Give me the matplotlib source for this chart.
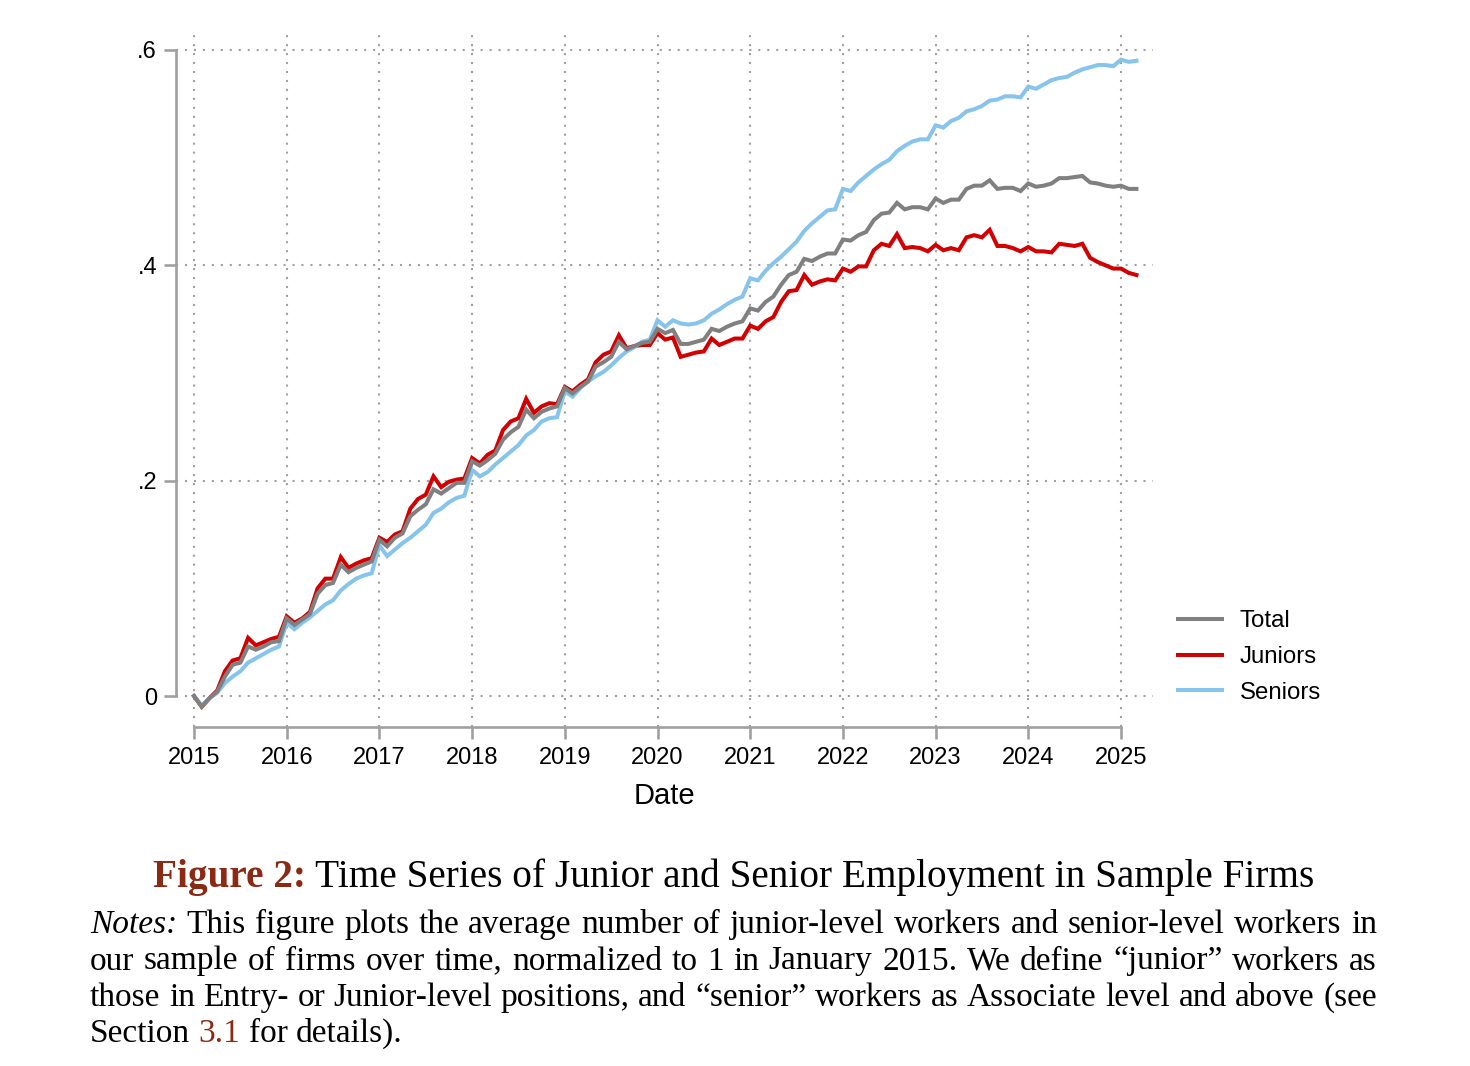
import numpy as np
import matplotlib
matplotlib.use("Agg")
import matplotlib.pyplot as plt
from matplotlib.transforms import IdentityTransform

# monthly series, Jan 2015 .. Mar 2025, normalized change vs Jan 2015
total = [0.000, -0.010, -0.002, 0.004, 0.018, 0.029, 0.031, 0.046, 0.043, 0.046, 0.050, 0.051,
         0.072, 0.066, 0.071, 0.076, 0.095, 0.103, 0.105, 0.122, 0.115, 0.119, 0.122, 0.125,
         0.145, 0.139, 0.147, 0.151, 0.167, 0.173, 0.178, 0.192, 0.188, 0.193, 0.198, 0.198,
         0.218, 0.214, 0.219, 0.225, 0.238, 0.245, 0.250, 0.266, 0.258, 0.264, 0.267, 0.269,
         0.286, 0.281, 0.287, 0.292, 0.306, 0.310, 0.315, 0.329, 0.322, 0.325, 0.328, 0.329,
         0.341, 0.337, 0.340, 0.327, 0.327, 0.329, 0.331, 0.341, 0.339, 0.343, 0.346, 0.348,
         0.360, 0.358, 0.366, 0.371, 0.382, 0.391, 0.394, 0.406, 0.404, 0.408, 0.411, 0.411,
         0.424, 0.423, 0.428, 0.431, 0.442, 0.448, 0.449, 0.458, 0.452, 0.454, 0.454, 0.452,
         0.462, 0.458, 0.461, 0.461, 0.471, 0.474, 0.474, 0.479, 0.471, 0.472, 0.472, 0.469,
         0.476, 0.473, 0.474, 0.476, 0.481, 0.481, 0.482, 0.483, 0.477, 0.476, 0.474, 0.473,
         0.474, 0.471, 0.471]
juniors = [0.000, -0.010, -0.002, 0.005, 0.023, 0.033, 0.035, 0.054, 0.047, 0.050, 0.053, 0.055,
           0.074, 0.068, 0.072, 0.078, 0.100, 0.109, 0.109, 0.129, 0.119, 0.123, 0.126, 0.128,
           0.147, 0.143, 0.150, 0.153, 0.174, 0.183, 0.187, 0.204, 0.194, 0.199, 0.201, 0.202,
           0.221, 0.216, 0.224, 0.228, 0.247, 0.255, 0.258, 0.276, 0.263, 0.269, 0.272, 0.271,
           0.287, 0.283, 0.289, 0.294, 0.310, 0.317, 0.320, 0.335, 0.323, 0.325, 0.326, 0.326,
           0.337, 0.331, 0.333, 0.315, 0.317, 0.319, 0.320, 0.332, 0.326, 0.329, 0.332, 0.332,
           0.344, 0.341, 0.348, 0.352, 0.366, 0.376, 0.377, 0.391, 0.382, 0.385, 0.387, 0.386,
           0.397, 0.394, 0.399, 0.399, 0.414, 0.420, 0.418, 0.429, 0.416, 0.417, 0.416, 0.413,
           0.419, 0.414, 0.416, 0.414, 0.426, 0.428, 0.426, 0.433, 0.418, 0.418, 0.416, 0.413,
           0.417, 0.413, 0.413, 0.412, 0.420, 0.419, 0.418, 0.420, 0.407, 0.403, 0.400, 0.397,
           0.397, 0.393, 0.391]
seniors = [0.000, -0.009, -0.002, 0.003, 0.012, 0.018, 0.023, 0.031, 0.035, 0.039, 0.043, 0.046,
           0.068, 0.062, 0.068, 0.073, 0.079, 0.085, 0.089, 0.098, 0.104, 0.109, 0.112, 0.114,
           0.140, 0.130, 0.136, 0.142, 0.147, 0.153, 0.159, 0.170, 0.174, 0.180, 0.184, 0.186,
           0.210, 0.204, 0.208, 0.215, 0.221, 0.227, 0.233, 0.242, 0.247, 0.255, 0.258, 0.259,
           0.283, 0.278, 0.286, 0.292, 0.297, 0.301, 0.307, 0.314, 0.320, 0.324, 0.329, 0.331,
           0.349, 0.343, 0.349, 0.346, 0.345, 0.346, 0.349, 0.355, 0.359, 0.364, 0.368, 0.371,
           0.388, 0.386, 0.395, 0.402, 0.408, 0.415, 0.422, 0.432, 0.439, 0.445, 0.451, 0.452,
           0.471, 0.469, 0.477, 0.483, 0.489, 0.494, 0.498, 0.506, 0.511, 0.515, 0.517, 0.517,
           0.530, 0.528, 0.534, 0.537, 0.543, 0.545, 0.548, 0.553, 0.554, 0.557, 0.557, 0.556,
           0.566, 0.564, 0.568, 0.572, 0.574, 0.575, 0.579, 0.582, 0.584, 0.586, 0.586, 0.585,
           0.591, 0.589, 0.590]
dates = 2015 + np.arange(len(total)) / 12.0

year_ticks = list(range(2015, 2026))
y_ticks = [0, 0.2, 0.4, 0.6]
y_labels = ["0", ".2", ".4", ".6"]

GRAY, RED, BLUE = "#808080", "#d20000", "#87c4eb"
AXC = "#a0a0a0"

plt.rcParams["font.family"] = ["Liberation Sans", "DejaVu Sans"]

W, H = 1470, 1066
fig = plt.figure(figsize=(W / 100, H / 100), dpi=100)
ax = fig.add_axes([176 / W, 1 - 727 / H, (1153 - 176) / W, (727 - 30) / H])

lw = 2.9
lj, = ax.plot(dates, juniors, color=RED, lw=lw, zorder=3, solid_joinstyle="miter")
ls, = ax.plot(dates, seniors, color=BLUE, lw=lw, zorder=4, solid_joinstyle="miter")
lt, = ax.plot(dates, total, color=GRAY, lw=lw, zorder=5, solid_joinstyle="miter")

ax.set_xlim(2015 - 18 / 92.7, 2025 + 32 / 92.7)
ax.set_ylim(-31 / 1076.7, 0.6 + 20 / 1076.7)
ax.set_xticks(year_ticks)
ax.set_yticks(y_ticks)
ax.set_yticklabels(y_labels)

for s in ["top", "right"]:
    ax.spines[s].set_visible(False)
ax.spines["left"].set_bounds(0, 0.6)
ax.spines["bottom"].set_bounds(2015, 2025)
for s in ["left", "bottom"]:
    ax.spines[s].set_color(AXC)
    ax.spines[s].set_linewidth(1.9)
ax.tick_params(direction="out", length=8.6, width=1.9, color=AXC, labelsize=17, pad=5.5)
ax.tick_params(axis="y", pad=5)
ax.set_axisbelow(True)
ax.grid(True, color=AXC, lw=1.5, linestyle=(0, (1, 3.3)))

ax.set_xlabel("Date", fontsize=21, labelpad=10)

ax.legend(handles=[lt, lj, ls], labels=["Total", "Juniors", "Seniors"],
          loc="center left", bbox_to_anchor=(1178 / W, 1 - 657 / H), bbox_transform=fig.transFigure,
          frameon=False, fontsize=17.3, handlelength=1.83, handletextpad=0.75,
          labelspacing=0.57, borderpad=0, borderaxespad=0)

# caption below the chart
r = fig.canvas.get_renderer()
ident = IdentityTransform()
SERIF = ["Liberation Serif", "DejaVu Serif"]
BROWN = "#8b2a14"


def text_width(s, **kw):
    t = fig.text(0, 0, s, family=SERIF, **kw)
    w = t.get_window_extent(renderer=r).width
    t.remove()
    return w


def put(x, y, s, **kw):
    fig.text(x, y, s, family=SERIF, transform=ident, va="baseline", ha="left", **kw)


# title line, sized to span the reference width
title_parts = ["Figure 2:", " Time Series of Junior and Senior Employment in Sample Firms"]
title_styles = [dict(weight="bold", color=BROWN), dict(color="black")]
w0 = sum(text_width(s, fontsize=20, **k) for s, k in zip(title_parts, title_styles))
tsize = 20 * (1316 - 152) / w0
x = 735 - (1316 - 152) / 2
for s, k in zip(title_parts, title_styles):
    put(x, H - 887, s, fontsize=tsize, **k)
    x += text_width(s, fontsize=tsize, **k)

# notes, justified
note_lines = [
    "Notes: This figure plots the average number of junior-level workers and senior-level workers in",
    "our sample of firms over time, normalized to 1 in January 2015. We define \u201cjunior\u201d workers as",
    "those in Entry- or Junior-level positions, and \u201csenior\u201d workers as Associate level and above (see",
    "Section 3.1 for details).",
]
left, right = 90, 1377
wl = text_width(note_lines[0], fontsize=20)
nsize = 20 * (right - left) / wl * 0.99
plain = dict(fontsize=nsize, color="black")
special = {"Notes:": dict(fontsize=nsize, color="black", style="italic"),
           "3.1": dict(fontsize=nsize, color=BROWN)}
base = [933, 969.5, 1006, 1042]
space = text_width("a a", **plain) - text_width("aa", **plain)
for i, line in enumerate(note_lines):
    words = line.split()
    styles = [special.get(w, plain) if (w != "3.1" or i == 3) else plain for w in words]
    widths = [text_width(s, **k) for s, k in zip(words, styles)]
    if i < 3:
        gap = (right - left - sum(widths)) / (len(words) - 1)
    else:
        gap = space
    x = left
    for s, k, w in zip(words, styles, widths):
        put(x, H - base[i], s, **k)
        x += w + gap

fig.savefig("out.png", dpi=100)
